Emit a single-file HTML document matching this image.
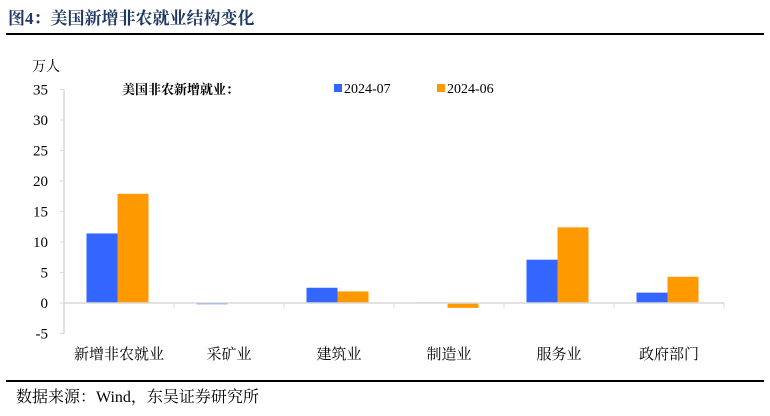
<!DOCTYPE html>
<html><head><meta charset="utf-8"><style>
body{margin:0;background:#fff;width:770px;height:411px;overflow:hidden;font-family:"Liberation Serif","Noto Serif CJK SC",serif}
</style></head><body>
<svg width="770" height="411">
<text x="8" y="24" font-size="17" font-weight="bold" fill="#1f3864" font-family="Liberation Serif, Noto Serif CJK SC, serif">图4：美国新增非农就业结构变化</text>
<line x1="6" y1="34" x2="764" y2="34" stroke="#000" stroke-width="2"/>
<text x="32" y="71" font-size="14" font-family="Liberation Serif, Noto Serif CJK SC, serif">万人</text>
<text x="122" y="94" font-size="13" font-weight="bold" font-family="Liberation Serif, Noto Serif CJK SC, serif">美国非农新增就业：</text>
<rect x="334" y="84" width="8" height="8" fill="#3366ff"/>
<text x="344" y="93" font-size="14">2024-07</text>
<rect x="437" y="84" width="8" height="8" fill="#ff9900"/>
<text x="447" y="93" font-size="14">2024-06</text>
<g id="plot"></g>
<line x1="6" y1="381" x2="764" y2="381" stroke="#000" stroke-width="2"/>
<text x="16" y="402" font-size="16" font-family="Liberation Serif, Noto Serif CJK SC, serif">数据来源：Wind，东吴证券研究所</text>
</svg>
<script>
const categories=["新增非农就业","采矿业","建筑业","制造业","服务业","政府部门"];
const jul=[11.4,-0.2,2.5,0.1,7.1,1.7];
const jun=[17.9,0,1.9,-0.8,12.4,4.3];
const ticks=[35,30,25,20,15,10,5,0,-5];
const ns="http://www.w3.org/2000/svg";
const g=document.getElementById('plot');
const x0=64,x1=724,yTop=89.5,yMax=35,yMin=-5,yBot=333.5;
const y=v=>yTop+(yMax-v)*(yBot-yTop)/(yMax-yMin);
const cw=(x1-x0)/categories.length;
function mk(t,a){const e=document.createElementNS(ns,t);for(const k in a)e.setAttribute(k,a[k]);g.appendChild(e);return e;}
let ax=mk('line',{x1:x0,y1:y(yMax),x2:x0,y2:y(yMin),stroke:'#d9d9d9','stroke-width':1.5});


ticks.forEach(t=>{
 const l=mk('line',{x1:x0-4,y1:y(t),x2:x0,y2:y(t),stroke:'#d9d9d9'});
 
 
 const tx=mk('text',{x:x0-16,y:y(t)+5,'font-size':15,'text-anchor':'end'});
 tx.textContent=t;
 
 
});
categories.forEach((c,i)=>{
 const cx=x0+cw*(i+0.5);
 const bw=31;
 const b1=mk('rect',{x:cx-bw-1.5,y:Math.min(y(jul[i]),y(0)),width:bw,height:Math.max(Math.abs(y(jul[i])-y(0)),0.8),fill:'#3366ff'});
 
 
 const b2=mk('rect',{x:cx-1.5,y:Math.min(y(jun[i]),y(0)),width:bw,height:Math.abs(y(jun[i])-y(0)),fill:'#ff9900'});
 
 
 const tk=mk('line',{x1:x0+cw*(i+1),y1:y(0),x2:x0+cw*(i+1),y2:y(0)+5,stroke:'#d9d9d9'});
 
 
 const lb=mk('text',{x:cx,y:359,'font-size':15,'text-anchor':'middle','font-family':'Liberation Serif, Noto Serif CJK SC, serif'});
 lb.textContent=c;
 
 
});
const zl=mk('line',{x1:x0,y1:y(0),x2:x1,y2:y(0),stroke:'#d9d9d9','stroke-width':1.5});


</script>
</body></html>
